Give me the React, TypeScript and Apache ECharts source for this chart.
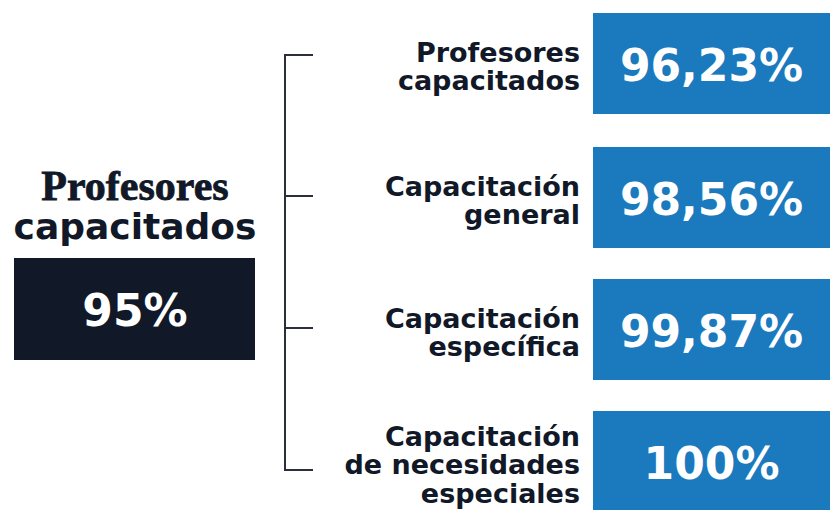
import React, { useEffect, useRef } from "react";
import * as echarts from "echarts";

const categories = [
  "Profesores\ncapacitados",
  "Capacitación\ngeneral",
  "Capacitación\nespecífica",
  "Capacitación\nde necesidades\nespeciales",
];
const values = [96.23, 98.56, 99.87, 100];
const totalTitleTop = "Profesores";
const totalTitleBottom = "capacitados";
const totalValue = 95;

const fmt = (v: number) =>
  (Number.isInteger(v) ? String(v) : v.toFixed(2).replace(".", ",")) + "%";

const DARK = "#111827";
const BLUE = "#1b79be";
const SANS = "'DejaVu Sans', sans-serif";

export default function App() {
  const ref = useRef<HTMLDivElement>(null);
  useEffect(() => {
    if (!ref.current) return;
    const chart = echarts.init(ref.current, undefined, { renderer: "svg" });

    const boxTops = [13, 147, 279, 411];
    const boxH = 101;
    const boxX = 593;
    const boxW = 237;
    const tickYs = [55, 196, 328, 470];
    const bracketX = 285;
    const tickEnd = 313;

    const elements: any[] = [];
    // left title
    elements.push({
      type: "text",
      x: 135,
      y: 186,
      style: {
        text: totalTitleTop,
        font: "bold 42px 'Liberation Serif', serif",
        fill: DARK,
        stroke: DARK,
        lineWidth: 0.8,
        align: "center",
        verticalAlign: "middle",
      },
    });
    elements.push({
      type: "text",
      x: 135,
      y: 226,
      style: {
        text: totalTitleBottom,
        font: `bold 36px ${SANS}`,
        fill: DARK,
        align: "center",
        verticalAlign: "middle",
      },
    });
    elements.push({
      type: "rect",
      shape: { x: 14, y: 258, width: 241, height: 102 },
      style: { fill: DARK },
    });
    elements.push({
      type: "text",
      x: 135,
      y: 310,
      style: {
        text: fmt(totalValue),
        font: `bold 44px ${SANS}`,
        fill: "#ffffff",
        align: "center",
        verticalAlign: "middle",
      },
    });
    // bracket
    elements.push({
      type: "line",
      shape: { x1: bracketX, y1: tickYs[0], x2: bracketX, y2: tickYs[tickYs.length - 1] },
      style: { stroke: "#2b2f3a", lineWidth: 2 },
    });
    tickYs.forEach((ty) => {
      elements.push({
        type: "line",
        shape: { x1: bracketX - 1, y1: ty, x2: tickEnd, y2: ty },
        style: { stroke: "#2b2f3a", lineWidth: 2 },
      });
    });
    // items
    categories.forEach((c, i) => {
      const cy = boxTops[i] + boxH / 2;
      elements.push({
        type: "rect",
        shape: { x: boxX, y: boxTops[i], width: boxW, height: boxH },
        style: { fill: BLUE },
      });
      elements.push({
        type: "text",
        x: boxX + boxW / 2,
        y: cy + 2,
        style: {
          text: fmt(values[i]),
          font: `bold 44px ${SANS}`,
          fill: "#ffffff",
          align: "center",
          verticalAlign: "middle",
        },
      });
      elements.push({
        type: "text",
        x: 580,
        y: cy + 3,
        style: {
          text: c,
          font: `bold 27px ${SANS}`,
          lineHeight: 28.5,
          fill: DARK,
          align: "right",
          verticalAlign: "middle",
        },
      });
    });

    chart.setOption({
      animation: false,
      backgroundColor: "#ffffff",
      graphic: { elements },
    });
    return () => chart.dispose();
  }, []);
  return (
    <div
      ref={ref}
      style={{ position: "absolute", left: 0, top: 0, width: 830, height: 510 }}
    />
  );
}
